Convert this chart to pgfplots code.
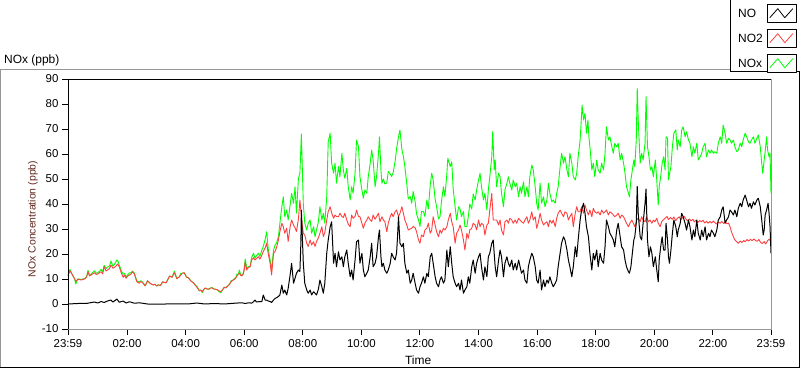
\documentclass[border=0pt]{standalone}
\usepackage{fontspec}
\setmainfont{Liberation Sans}
\usepackage{pgfplots}
\usepackage{pgfplotstable}
\pgfplotsset{compat=1.18}
\definecolor{noxgreen}{RGB}{0,255,0}
\definecolor{no2red}{RGB}{255,64,64}
\definecolor{framegray}{RGB}{150,150,150}
\definecolor{ylabcol}{RGB}{100,40,30}

% time in minutes after 23:59 (0 = 23:59, 1440 = 23:59 next day)
\pgfplotstableread{
t v
0 0.0
20 0.2
40 0.3
54 0.8
61 0.4
68 1.0
74 0.6
81 1.2
88 1.6
92 0.8
97 1.5
100 2.0
105 0.7
113 1.2
119 0.4
126 0.9
136 0.3
146 0.5
163 0.0
200 0.0
250 0.1
264 0.4
280 0.0
300 0.2
320 0.0
340 0.3
356 0.5
363 0.2
366 0.3
369 0.5
373 0.5
376 0.3
380 0.9
383 1.6
386 0.8
390 0.9
393 1.0
397 0.9
400 3.6
404 1.5
407 1.6
410 1.2
414 1.0
417 0.6
421 1.6
424 2.2
427 2.5
431 3.0
434 3.6
438 7.6
441 4.3
444 5.6
448 3.6
451 6.3
455 11.6
458 16.3
462 8.3
465 10.3
468 12.3
472 13.6
475 13.0
477 24.3
478 37.6
482 16.3
485 8.3
489 5.6
492 4.3
496 5.6
499 3.6
503 4.9
506 4.3
509 3.6
513 6.0
516 9.6
520 6.9
523 4.3
526 8.3
530 20.3
533 25.6
537 30.9
540 32.9
544 16.3
547 20.3
550 14.9
554 20.9
557 17.6
561 18.9
564 14.9
567 18.9
571 21.6
574 16.3
578 10.9
581 13.6
584 9.6
588 17.6
591 24.9
595 25.6
598 16.3
602 20.3
605 13.6
608 10.9
612 12.3
615 13.6
619 18.9
622 24.3
625 14.9
629 16.3
632 18.9
636 26.9
638 29.6
641 18.9
643 14.9
646 16.3
649 13.6
653 12.3
656 13.6
660 16.3
663 20.3
666 18.9
670 17.6
673 20.3
675 26.9
677 34.9
680 24.3
684 22.9
687 24.3
690 16.3
694 12.3
697 13.6
701 8.3
704 9.6
707 12.3
711 8.3
714 5.6
718 4.3
721 6.9
724 8.3
728 10.9
731 8.3
735 12.3
738 10.9
742 18.9
745 20.3
748 16.3
752 10.9
755 8.3
759 6.9
762 9.6
765 10.9
769 8.3
772 9.6
776 21.6
779 14.9
783 22.9
786 16.3
789 10.9
793 8.3
796 6.9
800 8.3
803 5.6
806 9.6
810 4.3
813 5.6
817 6.9
820 10.9
823 8.3
827 14.9
830 17.6
834 12.3
837 16.3
841 18.9
844 20.3
847 14.9
851 9.6
854 14.9
858 10.9
861 18.9
864 20.3
868 24.3
871 25.6
875 14.9
878 10.9
882 17.6
885 21.6
888 18.9
892 10.9
895 16.3
899 18.9
902 16.3
905 14.9
909 17.6
912 13.6
916 16.3
919 13.6
923 17.6
926 14.9
929 12.3
933 13.6
936 9.6
940 8.3
943 14.9
946 17.6
950 20.3
953 18.9
957 14.9
960 9.6
963 8.3
967 13.6
970 5.6
974 9.6
977 6.9
981 9.6
984 8.3
987 10.9
991 8.3
994 6.9
998 8.3
1001 9.6
1004 14.9
1008 20.3
1011 24.3
1015 26.9
1018 25.6
1022 21.6
1025 17.6
1028 14.9
1032 10.9
1035 14.9
1039 22.9
1042 18.9
1045 25.6
1049 33.6
1052 37.6
1056 40.3
1059 36.3
1062 30.9
1066 26.9
1069 20.3
1073 13.6
1076 20.3
1079 17.6
1083 21.6
1086 14.9
1090 20.3
1093 17.6
1097 16.3
1100 22.9
1103 33.6
1107 30.9
1110 28.3
1114 26.9
1117 25.6
1120 22.9
1124 29.6
1127 32.3
1131 26.9
1134 22.9
1138 21.6
1141 17.6
1144 14.9
1148 12.9
1150 12.3
1153 14.9
1156 20.3
1159 25.6
1161 26.9
1164 32.3
1166 47.0
1168 36.3
1172 26.9
1175 25.6
1178 32.3
1182 40.3
1184 46.0
1187 25.6
1190 18.9
1193 22.9
1196 20.3
1199 14.9
1203 18.9
1206 13.6
1209 8.9
1211 17.6
1214 22.9
1217 26.9
1220 21.6
1223 21.6
1225 32.3
1228 25.6
1230 18.9
1232 16.3
1235 21.6
1238 28.3
1241 33.6
1245 30.9
1248 26.9
1250 29.6
1254 32.3
1257 36.3
1260 34.9
1264 32.3
1267 29.6
1271 33.6
1274 30.9
1278 25.6
1281 29.6
1284 26.9
1288 33.6
1291 28.3
1295 25.6
1298 29.6
1301 26.9
1305 30.9
1308 25.6
1312 28.3
1315 26.9
1318 29.6
1322 28.3
1325 26.9
1329 29.6
1332 33.6
1336 34.9
1339 37.6
1342 38.9
1346 32.3
1349 33.6
1353 34.9
1356 37.6
1359 36.9
1363 35.6
1366 37.6
1370 34.9
1373 38.3
1377 40.3
1380 38.9
1383 41.6
1387 43.6
1390 41.6
1394 38.9
1397 40.3
1400 38.3
1404 40.9
1407 39.6
1411 41.6
1414 42.3
1418 38.9
1421 33.6
1424 27.6
1426 29.6
1428 35.6
1431 37.6
1434 40.3
1436 36.3
1438 31.0
1440 20.3
}\tabNO

\pgfplotstableread{
t v
0 11.3
4 13.3
8 12.0
13 10.3
16 9.0
20 9.9
27 9.6
34 10.0
38 10.7
41 12.9
44 11.2
47 11.6
54 12.5
58 11.8
61 12.0
65 12.6
68 12.9
71 12.0
74 14.9
78 13.2
81 13.6
85 14.2
88 15.6
92 14.3
97 14.9
100 15.6
102 16.0
105 14.9
109 12.5
113 10.7
116 11.5
119 10.3
122 11.2
126 11.6
129 12.0
132 12.9
136 12.0
141 8.9
146 8.3
149 9.0
153 8.5
158 7.2
163 9.3
168 8.3
171 8.0
175 7.6
178 7.9
182 7.2
185 7.7
189 7.4
194 8.9
197 8.6
201 8.5
204 9.6
208 11.2
213 10.7
218 12.5
223 10.1
228 10.9
231 11.6
234 12.3
238 12.5
243 10.7
246 10.6
250 9.6
253 9.0
257 8.5
260 7.7
264 6.7
269 5.3
272 5.6
275 4.9
278 5.8
281 6.4
285 6.0
288 5.9
292 6.4
295 6.4
299 6.0
302 5.9
306 5.7
309 5.3
313 4.9
317 5.8
320 6.7
323 6.4
327 7.2
331 7.9
334 8.9
337 9.4
341 9.9
344 10.5
346 11.2
349 12.0
351 12.3
354 11.4
356 11.2
359 12.0
361 13.6
363 16.8
366 13.6
369 14.5
373 14.9
376 17.5
380 18.5
383 17.6
386 18.2
390 18.9
393 17.9
397 19.5
400 21.0
404 22.5
407 24.3
410 20.3
414 16.3
417 11.6
421 20.3
424 21.0
427 22.5
431 25.6
434 28.9
438 32.3
441 30.9
444 28.3
448 30.3
451 25.0
455 30.9
458 33.6
462 31.6
465 30.5
468 29.0
472 34.0
475 41.6
479 33.0
482 28.3
485 27.6
489 24.3
492 23.0
496 25.6
499 23.6
503 24.9
506 23.0
509 25.0
513 26.5
516 28.3
520 30.9
523 27.0
526 28.5
530 33.6
533 37.0
537 38.9
540 36.5
544 34.3
547 35.6
550 35.0
554 34.9
557 36.3
561 35.0
564 34.6
567 36.3
571 33.6
574 32.0
578 30.9
581 35.6
584 34.3
588 35.0
591 37.6
595 35.0
598 34.9
602 32.3
605 30.3
608 32.3
612 33.6
615 34.9
619 33.6
622 33.0
625 35.6
629 33.9
632 35.0
636 36.3
639 32.9
643 34.9
646 33.6
649 33.0
653 28.9
656 32.3
660 34.9
663 36.3
666 34.9
670 36.9
673 37.6
677 34.9
680 36.3
684 38.9
687 36.3
690 33.6
694 31.6
697 29.6
701 30.0
704 30.3
707 31.0
711 30.5
714 28.9
718 25.6
721 24.3
724 27.6
728 26.9
731 29.6
735 30.3
738 32.3
742 28.3
745 29.6
748 34.9
752 31.6
755 28.9
759 26.9
762 29.6
765 28.3
769 30.3
772 29.6
776 30.9
779 33.6
783 36.3
786 32.9
789 30.9
793 24.3
796 28.3
800 29.6
803 31.6
806 29.6
810 25.6
813 21.6
817 28.3
820 26.3
823 29.6
827 30.3
830 32.3
834 31.6
837 29.6
841 33.6
844 30.9
847 32.3
851 31.6
854 27.6
858 31.6
861 32.3
864 37.6
868 44.3
871 33.6
875 33.6
878 33.6
882 31.6
885 33.6
888 29.6
892 27.6
895 32.9
899 33.6
902 32.3
905 34.3
909 33.6
912 32.3
916 33.6
919 32.3
923 34.3
926 33.6
929 32.9
933 32.3
936 33.6
940 34.9
943 32.3
946 33.6
950 36.9
953 33.6
957 34.9
960 30.3
963 32.3
967 36.3
970 33.6
974 31.6
977 32.3
981 32.9
984 30.9
987 33.6
991 32.3
994 33.6
998 30.9
1001 34.3
1004 36.3
1008 37.6
1011 36.3
1015 34.9
1018 36.9
1022 36.3
1025 33.6
1028 34.9
1032 36.3
1035 30.9
1039 36.3
1042 38.9
1045 36.9
1049 36.9
1052 38.9
1056 36.3
1059 39.6
1062 37.6
1066 35.6
1069 37.6
1073 34.9
1076 38.3
1079 36.9
1083 36.3
1086 36.9
1090 35.6
1093 37.6
1097 36.3
1100 36.9
1103 37.6
1107 35.6
1110 36.9
1114 36.3
1117 35.6
1120 34.9
1124 35.6
1127 36.3
1131 34.3
1134 35.6
1138 34.9
1141 33.6
1144 32.3
1148 30.9
1151 32.3
1155 33.6
1158 32.3
1161 30.9
1165 33.6
1168 34.3
1172 32.9
1175 34.9
1178 33.6
1182 32.9
1185 34.9
1189 32.9
1192 33.6
1196 32.3
1199 33.6
1202 32.9
1206 34.3
1209 32.3
1213 30.9
1216 32.9
1219 33.6
1223 34.3
1227 35.0
1230 33.8
1234 34.6
1238 33.9
1241 34.8
1245 33.3
1248 34.2
1252 34.9
1255 33.7
1259 34.6
1262 35.1
1266 33.9
1269 33.3
1273 34.0
1276 33.2
1280 33.9
1283 32.8
1287 33.6
1290 32.6
1294 33.4
1297 32.9
1301 33.5
1304 32.4
1308 33.1
1311 32.3
1315 33.0
1318 32.4
1322 33.2
1325 32.5
1329 32.0
1332 32.8
1336 32.3
1339 33.0
1343 32.2
1346 32.8
1350 32.1
1353 32.4
1356 30.9
1359 28.9
1363 26.9
1366 25.6
1370 24.9
1373 24.3
1377 25.2
1380 24.6
1384 25.4
1387 24.9
1391 25.8
1394 25.2
1398 25.9
1401 25.3
1405 26.0
1408 25.4
1412 25.1
1415 25.8
1419 24.6
1422 24.2
1426 25.0
1429 24.0
1433 25.3
1436 25.9
1440 24.9
}\tabNOtwo

\pgfplotstableread{
t v
0 11.3
4 13.8
8 12.0
13 10.3
16 8.0
20 10.1
27 9.8
34 10.2
38 10.9
41 13.5
44 11.5
47 11.8
54 13.3
58 12.3
61 12.5
65 13.2
68 13.9
71 12.8
74 15.5
78 14.2
81 14.8
85 15.2
88 17.2
92 15.1
97 16.4
100 17.6
102 17.3
105 15.6
109 13.4
113 11.9
116 12.2
119 10.7
122 11.6
126 12.5
129 12.4
132 13.2
136 12.3
141 9.2
146 8.8
149 9.3
153 8.7
158 7.3
163 9.3
168 8.3
171 8.0
175 7.6
178 7.9
182 7.2
185 7.7
189 7.3
194 8.9
197 8.6
201 8.5
204 9.6
208 11.2
213 10.7
218 13.2
223 10.1
228 10.9
231 12.3
234 12.3
238 12.5
243 10.7
246 10.6
250 9.7
253 9.0
257 8.5
260 7.7
264 7.1
269 5.3
272 5.6
275 4.6
278 5.8
281 6.4
285 6.0
288 5.9
292 6.4
295 6.6
299 6.0
302 5.9
306 5.7
309 5.0
313 4.5
317 5.8
320 6.7
323 6.6
327 7.2
331 7.9
334 9.3
337 9.4
341 10.2
344 10.5
346 12.0
349 12.0
351 13.6
354 11.4
356 11.7
359 12.0
361 14.5
363 18.0
366 14.3
369 14.9
373 15.0
376 18.5
380 20.3
383 18.3
386 19.3
390 20.3
393 19.0
397 21.5
400 23.0
404 26.0
407 28.9
410 22.3
414 17.6
417 13.6
421 21.6
424 23.5
427 24.3
431 26.9
434 32.3
438 38.9
441 42.9
444 34.9
448 37.6
451 33.6
455 39.6
458 44.3
462 40.3
465 46.9
468 36.3
472 50.3
475 52.3
478 68.0
482 40.0
485 32.3
489 29.6
492 32.3
496 33.6
499 28.3
503 30.9
506 26.9
509 29.6
513 33.0
516 38.9
520 33.6
523 36.3
526 32.3
530 42.9
533 64.9
537 68.3
540 56.3
544 52.3
547 56.3
550 48.3
554 55.0
557 50.9
561 60.3
564 53.6
567 50.3
571 54.3
574 46.9
578 41.6
581 46.9
584 44.3
588 52.3
591 65.6
595 63.0
598 50.9
602 45.6
605 42.3
608 45.6
612 44.3
615 50.9
619 56.3
622 61.6
625 57.6
629 46.9
632 50.9
636 60.3
638 66.9
641 53.6
643 48.3
646 50.0
649 48.0
653 48.5
656 53.0
660 52.0
663 51.0
666 52.5
670 57.0
673 62.0
677 66.9
680 69.6
684 61.6
687 59.0
690 55.0
694 48.0
697 42.0
701 43.0
704 40.3
707 45.0
711 41.0
714 36.0
718 33.6
721 31.0
724 37.0
728 37.0
731 35.0
735 41.6
738 38.0
742 47.6
745 52.3
748 49.6
752 42.0
755 38.9
759 34.0
762 34.9
765 41.0
769 46.9
772 43.0
776 52.0
778 58.3
783 55.0
786 56.9
789 46.0
793 38.9
796 33.6
800 38.9
803 38.0
806 35.0
810 37.0
813 30.9
817 31.0
820 35.0
823 40.0
827 38.0
830 44.0
834 41.6
837 45.6
841 49.6
844 52.3
847 46.9
851 41.6
854 44.3
858 37.6
861 45.6
864 50.9
868 58.9
870 69.0
873 53.6
875 57.6
878 46.9
882 52.3
885 50.9
888 44.3
892 38.9
895 45.6
899 48.3
902 50.9
905 48.3
909 45.6
912 49.6
916 46.9
919 48.3
923 42.9
926 46.9
929 44.3
933 48.9
936 42.9
940 46.9
943 42.9
946 50.9
950 55.6
953 53.6
957 46.9
960 40.3
963 37.6
967 48.3
970 40.3
974 42.9
977 38.9
981 41.6
984 48.3
987 44.3
991 40.9
994 41.6
998 40.3
1001 44.3
1004 46.9
1008 54.9
1011 60.3
1015 56.3
1018 58.9
1022 53.6
1025 50.9
1028 60.3
1032 56.3
1035 50.9
1039 49.6
1042 52.3
1045 58.9
1049 65.6
1051 72.3
1053 79.6
1056 73.6
1059 76.3
1062 68.3
1065 73.6
1067 66.9
1070 60.9
1073 53.6
1076 56.3
1079 50.9
1083 57.6
1086 53.6
1090 52.3
1093 56.3
1097 53.6
1100 60.3
1103 70.9
1107 65.6
1110 66.9
1114 62.9
1117 60.3
1120 64.3
1124 62.9
1127 64.3
1131 57.6
1134 60.3
1138 56.3
1141 52.3
1144 46.9
1148 44.3
1150 42.9
1153 49.6
1156 53.6
1159 57.6
1161 54.9
1164 65.6
1166 86.3
1168 73.6
1172 56.3
1175 60.3
1178 57.6
1182 64.3
1184 83.0
1187 62.9
1190 58.9
1193 53.6
1196 54.9
1199 50.9
1203 57.6
1206 49.6
1209 39.6
1211 46.9
1214 50.9
1217 56.3
1220 58.9
1223 53.6
1225 66.9
1228 66.3
1230 49.6
1232 52.0
1235 54.9
1238 62.9
1241 68.3
1245 69.6
1248 61.6
1250 65.6
1254 62.9
1257 69.6
1260 70.9
1264 66.9
1267 68.9
1271 65.6
1274 64.3
1278 58.9
1281 62.9
1284 60.3
1288 64.3
1291 57.6
1295 58.9
1298 60.3
1301 62.9
1305 64.3
1308 58.9
1312 61.6
1315 60.3
1318 61.6
1322 60.3
1325 60.9
1329 60.3
1332 64.3
1336 66.9
1339 64.3
1342 71.6
1346 68.3
1349 64.3
1353 66.3
1356 65.6
1359 64.3
1363 65.6
1366 62.9
1370 60.9
1373 61.6
1377 64.3
1380 62.9
1383 65.6
1387 68.3
1390 66.9
1394 64.9
1397 64.3
1400 65.6
1404 66.9
1407 64.3
1411 66.3
1414 67.6
1418 62.9
1421 56.3
1423 52.3
1426 57.6
1428 60.9
1431 66.9
1433 61.6
1436 58.9
1438 60.3
1440 44.3
}\tabNOx

\begin{document}
\begin{tikzpicture}
\useasboundingbox (0,0) rectangle (800bp,369bp);
\fill[white] (0,0) rectangle (800bp,369bp);
% outer panel
\draw[framegray, line width=1bp] (0.5bp,1bp) -- (0.5bp,299.5bp) -- (730bp,299.5bp);
\draw[black, line width=1bp] (0bp,1.5bp) -- (800bp,1.5bp);
\draw[black, line width=1bp] (799.5bp,1bp) -- (799.5bp,297bp);
% legend frame
\fill[white] (730bp,297bp) rectangle (800bp,369bp);
\draw[black, line width=1bp] (730.5bp,369bp) -- (730.5bp,297.5bp) -- (800bp,297.5bp);
% graph title
\node[anchor=base west, inner sep=0pt, font=\fontsize{12}{14}\selectfont] at (4bp,305bp) {NOx (ppb)};
\begin{axis}[
  at={(68bp,40bp)}, anchor=south west,
  scale only axis, width=703bp, height=250bp,
  xmin=0, xmax=1440, ymin=-10, ymax=90,
  clip=false,
  axis line style={draw=none},
  xtick={0,121,241,361,481,601,721,841,961,1081,1201,1321,1440},
  xticklabels={23:59,02:00,04:00,06:00,08:00,10:00,12:00,14:00,16:00,18:00,20:00,22:00,23:59},
  minor x tick num=9,
  ytick={-10,0,10,20,30,40,50,60,70,80,90},
  yticklabels={-10,0,10,20,30,40,50,60,70,80,90},
  xtick pos=bottom, ytick pos=left,
  tick align=outside,
  major tick length=6bp, minor tick length=3bp,
  every tick/.style={black, line width=1bp},
  ticklabel style={font=\fontsize{11.5}{13}\selectfont, text=black},
  xticklabel style={yshift=-1bp},
  xlabel={Time},
  ylabel={NOx Concentration (ppb)},
  every axis x label/.style={at={(axis description cs:0.498,-0.124)}, anchor=center, font=\fontsize{12}{14}\selectfont},
  every axis y label/.style={at={(axis description cs:-0.0498,0.44)}, anchor=center, rotate=90, font=\fontsize{10.5}{12}\selectfont, text=ylabcol},
  legend plot pos=right,
  reverse legend,
  legend style={at={(axis description cs:0.9417,1.316)}, anchor=north west, draw=none, fill=none,
    inner xsep=6bp, inner ysep=4bp, row sep=6bp, font=\fontsize{12}{14}\selectfont,
    cells={anchor=west}, /tikz/every odd column/.append style={column sep=2.5bp}},
  legend image code/.code={
    \draw[black, solid, line width=1bp, fill=white] (0bp,-9bp) rectangle (29bp,9bp);
    \draw[line width=0.8bp] (2bp,-4bp) -- (10bp,5bp) -- (17bp,-4bp) -- (25bp,5bp);
  },
  every axis plot/.append style={line width=0.9bp, line join=round},
  after end axis/.code={
    \draw[framegray, line width=1bp] (rel axis cs:0,0) -- (rel axis cs:1,0) -- (rel axis cs:1,1);
    \draw[black, line width=1bp] (rel axis cs:0,0) -- (rel axis cs:0,1) -- (rel axis cs:1,1);
  },
]
\addplot[noxgreen] table[x=t, y=v] {\tabNOx};
\addlegendentry{NOx}
\addplot[no2red] table[x=t, y=v] {\tabNOtwo};
\addlegendentry{NO2}
\addplot[black, line width=1bp] table[x=t, y=v] {\tabNO};
\addlegendentry{NO}
\end{axis}
\end{tikzpicture}
\end{document}
